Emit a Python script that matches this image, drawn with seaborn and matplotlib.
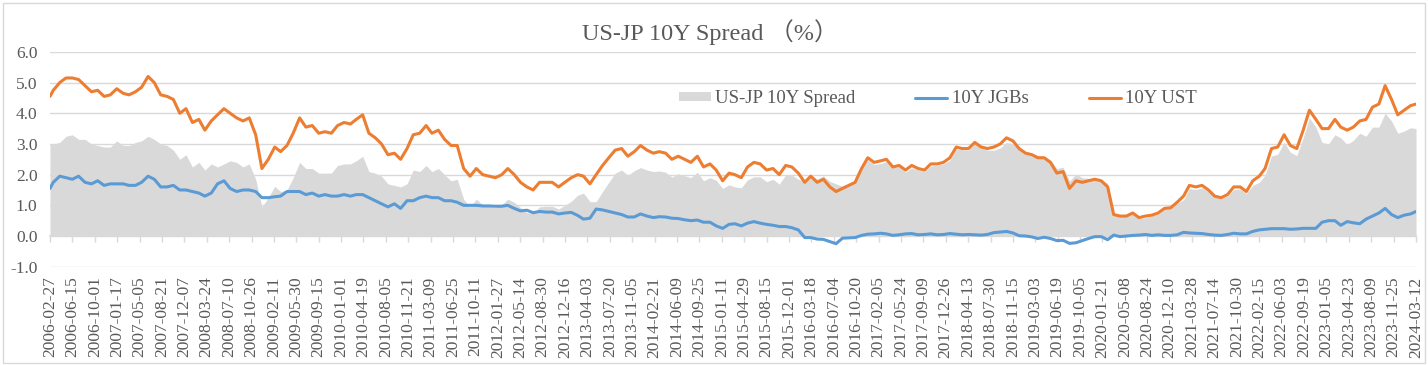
import numpy as np
import pandas as pd
import matplotlib
matplotlib.use("Agg")
import matplotlib.pyplot as plt
import seaborn as sns
from matplotlib.patches import Rectangle
from matplotlib.ticker import FormatStrFormatter

# monthly readings, Feb 2006 .. Mar 2024 (first point 2006-02-27, last 2024-03-12)
ust_10y = [
    4.55, 4.75, 5.00, 5.15, 5.15, 5.10, 4.90, 4.70, 4.75, 4.55, 4.60,
    4.80, 4.65, 4.60, 4.70, 4.85, 5.20, 5.00, 4.60, 4.55, 4.45, 4.00, 4.15,
    3.70, 3.80, 3.45, 3.75, 3.95, 4.15, 4.00, 3.85, 3.75, 3.85, 3.30, 2.20,
    2.50, 2.90, 2.75, 2.95, 3.35, 3.85, 3.55, 3.60, 3.35, 3.40, 3.35, 3.60,
    3.70, 3.65, 3.80, 3.95, 3.35, 3.20, 3.00, 2.65, 2.70, 2.50, 2.85, 3.30,
    3.35, 3.60, 3.35, 3.45, 3.15, 2.95, 2.95, 2.20, 1.95, 2.20, 2.00, 1.95,
    1.90, 2.00, 2.20, 2.00, 1.75, 1.60, 1.50, 1.75, 1.75, 1.75, 1.60, 1.75,
    1.90, 2.00, 1.95, 1.70, 2.00, 2.30, 2.55, 2.80, 2.85, 2.60, 2.75, 2.95,
    2.80, 2.70, 2.75, 2.70, 2.50, 2.60, 2.50, 2.40, 2.60, 2.25, 2.35, 2.15,
    1.80, 2.05, 2.00, 1.90, 2.25, 2.40, 2.35, 2.15, 2.20, 2.00, 2.30, 2.25,
    2.05, 1.75, 1.95, 1.75, 1.85, 1.60, 1.45, 1.55, 1.65, 1.75, 2.20, 2.55,
    2.40, 2.45, 2.50, 2.25, 2.30, 2.15, 2.30, 2.20, 2.15, 2.35, 2.35, 2.40,
    2.55, 2.90, 2.85, 2.85, 3.05, 2.90, 2.85, 2.90, 3.00, 3.20, 3.10, 2.85,
    2.70, 2.65, 2.55, 2.55, 2.40, 2.05, 2.10, 1.55, 1.80, 1.75, 1.80, 1.85,
    1.80, 1.60, 0.70, 0.65, 0.65, 0.75, 0.60, 0.65, 0.68, 0.75, 0.90, 0.92,
    1.10, 1.30, 1.65, 1.60, 1.65, 1.50, 1.30, 1.25, 1.35, 1.60, 1.60, 1.45,
    1.80, 1.95, 2.20, 2.85, 2.90, 3.30, 2.95, 2.85, 3.45, 4.10, 3.80, 3.50,
    3.50, 3.80, 3.55, 3.45, 3.55, 3.75, 3.80, 4.20, 4.30, 4.90, 4.45, 3.95,
    4.10, 4.25, 4.30,
]

jgb_10y = [
    1.55, 1.75, 1.95, 1.90, 1.85, 1.95, 1.75, 1.70, 1.80, 1.65, 1.70,
    1.70, 1.70, 1.65, 1.65, 1.75, 1.95, 1.85, 1.60, 1.60, 1.65, 1.50, 1.50,
    1.45, 1.40, 1.30, 1.40, 1.70, 1.80, 1.55, 1.45, 1.50, 1.50, 1.45, 1.25,
    1.25, 1.28, 1.30, 1.45, 1.45, 1.45, 1.35, 1.40, 1.30, 1.35, 1.30, 1.30,
    1.35, 1.30, 1.35, 1.35, 1.25, 1.15, 1.05, 0.95, 1.05, 0.90, 1.15, 1.15,
    1.25, 1.30, 1.25, 1.25, 1.15, 1.15, 1.10, 1.00, 1.00, 1.00, 0.98, 0.98,
    0.97, 0.97, 1.00, 0.90, 0.82, 0.84, 0.76, 0.80, 0.78, 0.78, 0.72, 0.75,
    0.77, 0.67, 0.55, 0.58, 0.88, 0.85, 0.80, 0.75, 0.70, 0.62, 0.62, 0.72,
    0.65, 0.60, 0.63, 0.62, 0.58, 0.57, 0.53, 0.50, 0.52, 0.45, 0.45, 0.33,
    0.25, 0.38, 0.40, 0.33, 0.42, 0.47, 0.42, 0.38, 0.35, 0.31, 0.31, 0.27,
    0.20, -0.05, -0.05, -0.10, -0.11, -0.18, -0.25, -0.07, -0.06, -0.05, 0.02, 0.06,
    0.07, 0.09, 0.07, 0.02, 0.04, 0.07, 0.08, 0.04, 0.05, 0.07, 0.04, 0.05,
    0.08, 0.06, 0.04, 0.05, 0.04, 0.03, 0.05, 0.11, 0.13, 0.15, 0.10, 0.01,
    0.00, -0.03, -0.08, -0.04, -0.08, -0.15, -0.14, -0.24, -0.22, -0.15, -0.08, -0.02,
    -0.02, -0.12, 0.03, -0.02, 0.00, 0.02, 0.03, 0.05, 0.02, 0.04, 0.02, 0.02,
    0.04, 0.12, 0.10, 0.09, 0.08, 0.05, 0.03, 0.02, 0.05, 0.09, 0.07, 0.07,
    0.15, 0.20, 0.22, 0.24, 0.24, 0.24, 0.22, 0.23, 0.25, 0.25, 0.25, 0.45,
    0.50, 0.50, 0.35, 0.47, 0.43, 0.40, 0.55, 0.65, 0.75, 0.90, 0.70, 0.60,
    0.68, 0.72, 0.80,
]

mid_months = pd.date_range("2006-03-01", "2024-02-01", freq="MS") + pd.Timedelta(days=14)
dates = pd.DatetimeIndex([pd.Timestamp("2006-02-27")]).append(mid_months).append(
    pd.DatetimeIndex([pd.Timestamp("2024-03-12")]))

tick_dates = pd.date_range("2006-02-27", "2024-03-12", freq="108D")
tick_labels = [d.strftime("%Y-%m-%d") for d in tick_dates]

df = pd.DataFrame({"date": dates, "UST": ust_10y, "JGB": jgb_10y})
df["spread"] = df["UST"] - df["JGB"]

sns.set_theme(style="white")
plt.rcParams["font.family"] = ["Liberation Serif", "Noto Sans CJK SC"]
txt = "#595959"
grid_c = "#D9D9D9"

fig = plt.figure(figsize=(14.28, 3.65), dpi=100)
ax = fig.add_axes([0.035, 0.2693, 0.9566, 0.5885])

ax.fill_between(df["date"], 0, df["spread"], color="#D9D9D9", lw=0,
                label="US-JP 10Y Spread", zorder=1)
sns.lineplot(data=df, x="date", y="JGB", ax=ax, color="#5B9BD5", lw=2.2,
             label="10Y JGBs", zorder=3)
sns.lineplot(data=df, x="date", y="UST", ax=ax, color="#ED7D31", lw=2.2,
             label="10Y UST", zorder=4)

ax.set_xlim(tick_dates[0], tick_dates[-1])
ax.set_ylim(-1, 6)
ax.set_yticks(np.arange(-1, 7, 1))
ax.yaxis.set_major_formatter(FormatStrFormatter("%.1f"))
ax.set_axisbelow(True)
ax.grid(axis="y", color=grid_c, lw=1)
ax.grid(axis="x", visible=False)
for s in ax.spines.values():
    s.set_visible(False)

ax.set_xticks(tick_dates)
ax.set_xticklabels(tick_labels, rotation=90)
ax.tick_params(axis="x", length=0, pad=7, labelsize=12.5, labelcolor=txt)
ax.tick_params(axis="y", length=0, pad=9, labelsize=12.5, labelcolor=txt)
ax.set_xlabel("")
ax.set_ylabel("")

# category axis line sits on zero, tick marks hang below it
sec = ax.secondary_xaxis(1 / 7)
sec.set_xticks(tick_dates)
sec.tick_params(axis="x", direction="out", length=4, width=1, color=grid_c,
                labelbottom=False, labeltop=False)
for s in sec.spines.values():
    s.set_color(grid_c)

handles, labels = ax.get_legend_handles_labels()
order = [labels.index("US-JP 10Y Spread"), labels.index("10Y JGBs"), labels.index("10Y UST")]
leg = ax.legend([handles[i] for i in order], [labels[i] for i in order],
                loc="center", bbox_to_anchor=(0.65, 0.781), ncol=3, frameon=False,
                fontsize=13.5, handlelength=1.7, handleheight=0.4,
                handletextpad=0.25, columnspacing=3.2)
for t in leg.get_texts():
    t.set_color(txt)

fig.suptitle("US-JP 10Y Spread （%）", x=0.497, y=0.912, va="center",
             fontsize=17.5, color=txt)

fig.patches.append(Rectangle((0.0019, 0.0055), 0.996, 0.9855, transform=fig.transFigure,
                             fill=False, ec=grid_c, lw=1))

fig.savefig("out.png", dpi=100)
